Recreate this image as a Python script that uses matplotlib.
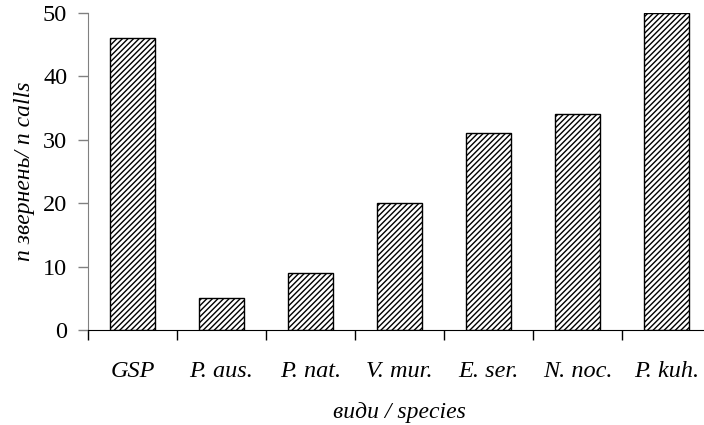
import matplotlib
matplotlib.use("Agg")
import matplotlib.pyplot as plt
import numpy as np

categories = ["GSP", "P. aus.", "P. nat.", "V. mur.", "E. ser.", "N. noc.", "P. kuh."]
values = [46, 5, 9, 20, 31, 34, 50]
yticks = [0, 10, 20, 30, 40, 50]

plt.rcParams['font.family'] = ['Liberation Serif', 'DejaVu Serif']
plt.rcParams['hatch.linewidth'] = 1.0

fig = plt.figure(figsize=(7.04, 4.25), dpi=100)
ax = fig.add_axes([88/704, (425-330)/425, (711-88)/704, (330-13)/425])

x = np.arange(len(categories))
ax.bar(x, values, width=0.5, color='white', edgecolor='black', hatch='//////', linewidth=1.0)

ax.set_xlim(-0.5, len(categories) - 0.5)
ax.set_ylim(0, 50)
ax.set_yticks(yticks)
ax.set_yticklabels([str(v) for v in yticks], fontsize=17.5)

ax.set_xticks(np.arange(len(categories) + 1) - 0.5)
ax.set_xticklabels([])
ax.set_xticks(x, minor=True)
ax.set_xticklabels(categories, minor=True, fontsize=17.5, style='italic')
ax.tick_params(axis='x', which='minor', length=0, pad=22)
ax.tick_params(axis='x', which='major', length=7, width=1, color='black', direction='out')
ax.tick_params(axis='y', length=7, width=1, color='#808080', direction='out', pad=8)

for s in ['top', 'right']:
    ax.spines[s].set_visible(False)
ax.spines['left'].set_color('#808080')
ax.spines['bottom'].set_color('black')

ax.set_ylabel('n звернень/ n calls', fontsize=17, style='italic', labelpad=6)
ax.set_xlabel('види / species', fontsize=17, style='italic', labelpad=15)

fig.savefig('out.png', dpi=100)
